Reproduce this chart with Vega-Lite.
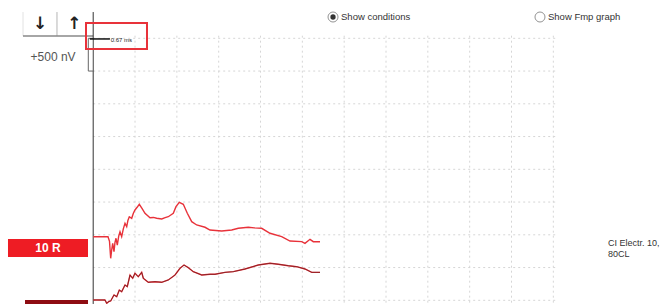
{
  "$schema": "https://vega.github.io/schema/vega-lite/v6.json",
  "width": 670,
  "height": 304,
  "autosize": {"type": "none"},
  "padding": 0,
  "background": "white",
  "config": {"view": {"stroke": null}},
  "datasets": {
    "vgrid": [{"ms":1},{"ms":2},{"ms":3},{"ms":4},{"ms":5},{"ms":6},{"ms":7},{"ms":8},{"ms":9},{"ms":10},{"ms":11}],
    "hgrid": [{"nV":0},{"nV":500},{"nV":1000},{"nV":1500},{"nV":2000},{"nV":2500},{"nV":3000},{"nV":3500},{"nV":4000}],
    "traces": [
      {"t":"A","ms":0,"nV":971},{"t":"A","ms":0.354,"nV":971},{"t":"A","ms":0.39,"nV":900},{"t":"A","ms":0.418,"nV":641},{"t":"A","ms":0.44,"nV":760},{"t":"A","ms":0.466,"nV":870},{"t":"A","ms":0.497,"nV":742},{"t":"A","ms":0.52,"nV":880},{"t":"A","ms":0.545,"nV":947},{"t":"A","ms":0.576,"nV":844},{"t":"A","ms":0.61,"nV":980},{"t":"A","ms":0.641,"nV":1047},{"t":"A","ms":0.681,"nV":971},{"t":"A","ms":0.72,"nV":1090},{"t":"A","ms":0.76,"nV":1176},{"t":"A","ms":0.801,"nV":1124},{"t":"A","ms":0.83,"nV":1220},{"t":"A","ms":0.863,"nV":1276},{"t":"A","ms":0.92,"nV":1252},{"t":"A","ms":0.96,"nV":1330},{"t":"A","ms":0.999,"nV":1379},{"t":"A","ms":1.05,"nV":1420},{"t":"A","ms":1.102,"nV":1466},{"t":"A","ms":1.17,"nV":1400},{"t":"A","ms":1.238,"nV":1328},{"t":"A","ms":1.358,"nV":1261},{"t":"A","ms":1.44,"nV":1265},{"t":"A","ms":1.518,"nV":1252},{"t":"A","ms":1.638,"nV":1241},{"t":"A","ms":1.72,"nV":1262},{"t":"A","ms":1.795,"nV":1276},{"t":"A","ms":1.915,"nV":1328},{"t":"A","ms":1.979,"nV":1429},{"t":"A","ms":2.058,"nV":1496},{"t":"A","ms":2.154,"nV":1466},{"t":"A","ms":2.25,"nV":1328},{"t":"A","ms":2.355,"nV":1200},{"t":"A","ms":2.474,"nV":1150},{"t":"A","ms":2.673,"nV":1115},{"t":"A","ms":2.792,"nV":1073},{"t":"A","ms":2.93,"nV":1065},{"t":"A","ms":3.072,"nV":1058},{"t":"A","ms":3.311,"nV":1073},{"t":"A","ms":3.469,"nV":1099},{"t":"A","ms":3.708,"nV":1115},{"t":"A","ms":3.85,"nV":1105},{"t":"A","ms":4.028,"nV":1099},{"t":"A","ms":4.227,"nV":1023},{"t":"A","ms":4.506,"nV":971},{"t":"A","ms":4.705,"nV":905},{"t":"A","ms":4.985,"nV":895},{"t":"A","ms":5.063,"nV":870},{"t":"A","ms":5.183,"nV":931},{"t":"A","ms":5.262,"nV":895},{"t":"A","ms":5.422,"nV":895},
      {"t":"B","ms":0,"nV":5},{"t":"B","ms":0.282,"nV":5},{"t":"B","ms":0.323,"nV":-46},{"t":"B","ms":0.37,"nV":-20},{"t":"B","ms":0.418,"nV":-11},{"t":"B","ms":0.497,"nV":81},{"t":"B","ms":0.562,"nV":55},{"t":"B","ms":0.624,"nV":157},{"t":"B","ms":0.681,"nV":131},{"t":"B","ms":0.76,"nV":234},{"t":"B","ms":0.815,"nV":208},{"t":"B","ms":0.88,"nV":386},{"t":"B","ms":0.944,"nV":336},{"t":"B","ms":0.999,"nV":412},{"t":"B","ms":1.078,"nV":360},{"t":"B","ms":1.159,"nV":427},{"t":"B","ms":1.198,"nV":336},{"t":"B","ms":1.317,"nV":275},{"t":"B","ms":1.477,"nV":284},{"t":"B","ms":1.638,"nV":275},{"t":"B","ms":1.795,"nV":310},{"t":"B","ms":1.956,"nV":386},{"t":"B","ms":2.075,"nV":489},{"t":"B","ms":2.171,"nV":539},{"t":"B","ms":2.273,"nV":498},{"t":"B","ms":2.393,"nV":437},{"t":"B","ms":2.594,"nV":386},{"t":"B","ms":2.792,"nV":397},{"t":"B","ms":2.912,"nV":397},{"t":"B","ms":3.151,"nV":427},{"t":"B","ms":3.349,"nV":437},{"t":"B","ms":3.629,"nV":478},{"t":"B","ms":3.947,"nV":539},{"t":"B","ms":4.227,"nV":565},{"t":"B","ms":4.425,"nV":550},{"t":"B","ms":4.664,"nV":528},{"t":"B","ms":4.865,"nV":513},{"t":"B","ms":5.063,"nV":478},{"t":"B","ms":5.224,"nV":427},{"t":"B","ms":5.422,"nV":427}
    ],
    "radios": [
      {"ms":5.733,"nV":4325,"label":"Show conditions","on":true},
      {"ms":10.681,"nV":4325,"label":"Show Fmp graph","on":false}
    ],
    "arrows": [{"ms":-1.27,"nV":4220,"label":"↓"},{"ms":-0.45,"nV":4220,"label":"↑"}],
    "scale": [{"ms":-0.96,"nV":3714,"label":"+500 nV"}],
    "marker": [{"ms":0.42,"nV":3975,"label":"0.67 ms"}],
    "chan": [{"ms0":-2.037,"ms1":-0.124,"top":936,"bot":661,"label":"10 R","fill":"R"},{"ms0":-1.63,"ms1":-0.124,"top":5,"bot":-300,"label":"","fill":"D"}],
    "cond": [{"ms":12.307,"nV":875,"label":"CI Electr. 10,"},{"ms":12.307,"nV":707,"label":"80CL"}]
  },
  "encoding": {
    "x": {"type": "quantitative", "scale": {"domain": [-2.228, 13.789], "nice": false, "zero": false}, "axis": null},
    "y": {"type": "quantitative", "scale": {"domain": [-56.5, 4584.7], "nice": false, "zero": false}, "axis": null}
  },
  "layer": [
    {"data": {"name": "vgrid"}, "mark": {"type": "rule", "stroke": "#d6d6d6", "strokeDash": [2, 3], "strokeWidth": 1},
     "encoding": {"x": {"field": "ms", "type": "quantitative"}, "y": {"datum": 4040}, "y2": {"datum": -56}}},
    {"data": {"name": "hgrid"}, "mark": {"type": "rule", "stroke": "#d6d6d6", "strokeDash": [2, 3], "strokeWidth": 1},
     "encoding": {"y": {"field": "nV", "type": "quantitative"}, "x": {"datum": 0}, "x2": {"datum": 11.05}}},
    {"data": {"values": [{}]}, "mark": {"type": "rule", "stroke": "#b5b5b5", "strokeWidth": 1},
     "encoding": {"x": {"datum": -0.866}, "y": {"datum": 4401}, "y2": {"datum": 4035}}},
    {"data": {"values": [{}]}, "mark": {"type": "rule", "stroke": "#e2e2e2", "strokeWidth": 1},
     "encoding": {"x": {"datum": -1.678}, "y": {"datum": 4401}, "y2": {"datum": 4035}}},
    {"data": {"values": [{}]}, "mark": {"type": "rule", "stroke": "#888", "strokeWidth": 1.5},
     "encoding": {"x": {"datum": -1.678}, "x2": {"datum": 0}, "y": {"datum": 4035}}},
    {"data": {"name": "arrows"}, "mark": {"type": "text", "font": "DejaVu Sans", "fontSize": 17, "fontWeight": "bold", "color": "#222", "align": "center", "baseline": "middle"},
     "encoding": {"x": {"field": "ms", "type": "quantitative"}, "y": {"field": "nV", "type": "quantitative"}, "text": {"field": "label"}}},
    {"data": {"values": [{}]}, "mark": {"type": "rule", "stroke": "#333", "strokeWidth": 1},
     "encoding": {"x": {"datum": 0}, "y": {"datum": 4401}, "y2": {"datum": -56}}},
    {"data": {"values": [{}]}, "mark": {"type": "rect", "fill": "white", "stroke": "#666", "strokeWidth": 1},
     "encoding": {"x": {"datum": -0.117}, "x2": {"datum": 0}, "y": {"datum": 4000}, "y2": {"datum": 3500}}},
    {"data": {"name": "scale"}, "mark": {"type": "text", "font": "Liberation Sans", "fontSize": 12, "color": "#555", "align": "center", "baseline": "middle"},
     "encoding": {"x": {"field": "ms", "type": "quantitative"}, "y": {"field": "nV", "type": "quantitative"}, "text": {"field": "label"}}},
    {"data": {"values": [{}]}, "mark": {"type": "rect", "fill": null, "stroke": "#e8323a", "strokeWidth": 2},
     "encoding": {"x": {"datum": -0.172}, "x2": {"datum": 1.286}, "y": {"datum": 4233}, "y2": {"datum": 3836}}},
    {"data": {"values": [{}]}, "mark": {"type": "rule", "stroke": "#111", "strokeWidth": 1.5},
     "encoding": {"x": {"datum": -0.08}, "x2": {"datum": 0.40}, "y": {"datum": 3990}}},
    {"data": {"name": "marker"}, "mark": {"type": "text", "font": "Liberation Sans", "fontSize": 6, "color": "#222", "align": "left", "baseline": "middle"},
     "encoding": {"x": {"field": "ms", "type": "quantitative"}, "y": {"field": "nV", "type": "quantitative"}, "text": {"field": "label"}}},
    {"data": {"name": "radios"}, "mark": {"type": "point", "shape": "circle", "size": 100, "filled": false, "stroke": "#666", "strokeWidth": 1},
     "encoding": {"x": {"field": "ms", "type": "quantitative"}, "y": {"field": "nV", "type": "quantitative"}}},
    {"data": {"name": "radios"}, "transform": [{"filter": "datum.on"}], "mark": {"type": "point", "shape": "circle", "size": 28, "filled": true, "fill": "#333", "opacity": 1},
     "encoding": {"x": {"field": "ms", "type": "quantitative"}, "y": {"field": "nV", "type": "quantitative"}}},
    {"data": {"name": "radios"}, "mark": {"type": "text", "font": "Liberation Sans", "fontSize": 9.5, "color": "#333", "align": "left", "baseline": "middle", "dx": 8},
     "encoding": {"x": {"field": "ms", "type": "quantitative"}, "y": {"field": "nV", "type": "quantitative"}, "text": {"field": "label"}}},
    {"data": {"name": "traces"}, "mark": {"type": "line", "stroke": "#e8323a", "strokeWidth": 1.4, "interpolate": "linear"},
     "encoding": {"x": {"field": "ms", "type": "quantitative"}, "y": {"field": "nV", "type": "quantitative"}, "detail": {"field": "t"}}},
    {"data": {"name": "traces"}, "transform": [{"filter": "datum.t == 'B'"}], "mark": {"type": "line", "stroke": "#5a1a1c", "strokeWidth": 0.8, "opacity": 0.8},
     "encoding": {"x": {"field": "ms", "type": "quantitative"}, "y": {"field": "nV", "type": "quantitative"}}},
    {"data": {"name": "chan"}, "mark": {"type": "rect", "stroke": null},
     "encoding": {"x": {"field": "ms0", "type": "quantitative"}, "x2": {"field": "ms1"}, "y": {"field": "top", "type": "quantitative"}, "y2": {"field": "bot"},
       "fill": {"field": "fill", "type": "nominal", "scale": {"domain": ["R", "D"], "range": ["#ee1c24", "#8e0c12"]}, "legend": null}}},
    {"data": {"name": "chan"}, "transform": [{"calculate": "(datum.ms0 + datum.ms1) / 2", "as": "mid"}, {"calculate": "(datum.top + datum.bot) / 2", "as": "midy"}],
     "mark": {"type": "text", "font": "Liberation Sans", "fontSize": 12, "fontWeight": "bold", "color": "white", "align": "center", "baseline": "middle"},
     "encoding": {"x": {"field": "mid", "type": "quantitative"}, "y": {"field": "midy", "type": "quantitative"}, "text": {"field": "label"}}},
    {"data": {"name": "cond"}, "mark": {"type": "text", "font": "Liberation Sans", "fontSize": 9, "color": "#333", "align": "left", "baseline": "middle"},
     "encoding": {"x": {"field": "ms", "type": "quantitative"}, "y": {"field": "nV", "type": "quantitative"}, "text": {"field": "label"}}}
  ]
}
